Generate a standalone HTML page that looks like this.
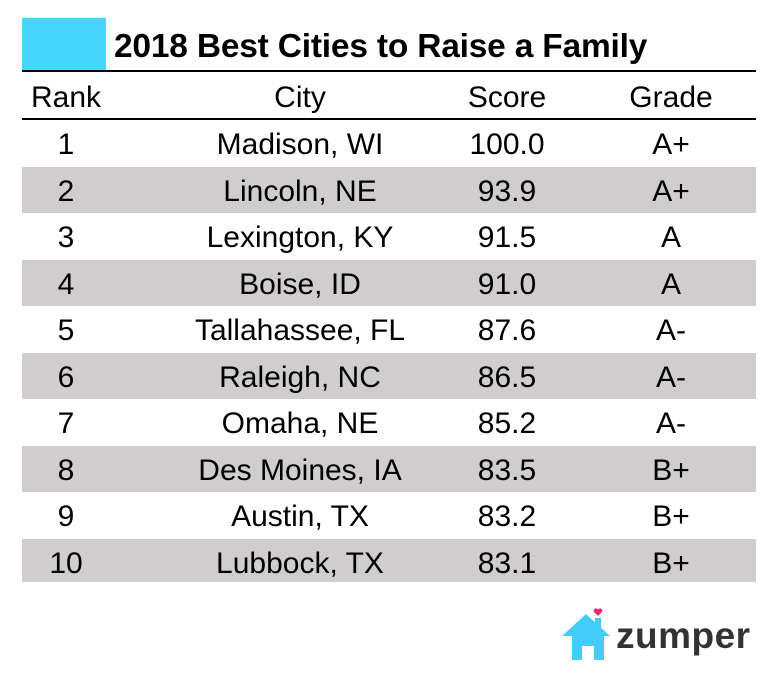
<!DOCTYPE html>
<html><head><style>
body{margin:0;width:776px;height:684px;background:#fff;position:relative;overflow:hidden;font-family:"Liberation Sans",sans-serif;color:#000}
.cy{position:absolute;left:22px;top:18px;width:84px;height:52px;background:#45d6fb}
.t{position:absolute;left:114px;top:27px;font-size:33.5px;font-weight:bold;letter-spacing:-0.2px;line-height:40px}
.ln{position:absolute;left:22px;width:734px;height:2px;background:#000}
.r{position:absolute;left:22px;width:734px;height:46.6px;font-size:30px;line-height:50px}
.r span{position:absolute;top:0;transform:translateX(-50%);white-space:nowrap}
.g{background:#cfcdcd}
.a{left:44px}.b{left:278px}.c{left:485px}.d{left:649px}
</style></head><body>
<div class="cy"></div>
<div class="t">2018 Best Cities to Raise a Family</div>
<div class="ln" style="top:70px"></div>
<div class="r" style="top:73px"><span class="a">Rank</span><span class="b">City</span><span class="c">Score</span><span class="d">Grade</span></div>
<div class="ln" style="top:118px"></div>
<div class="r" style="top:120px"><span class="a">1</span><span class="b">Madison, WI</span><span class="c">100.0</span><span class="d">A+</span></div>
<div class="r g" style="top:166.5px"><span class="a">2</span><span class="b">Lincoln, NE</span><span class="c">93.9</span><span class="d">A+</span></div>
<div class="r" style="top:213px"><span class="a">3</span><span class="b">Lexington, KY</span><span class="c">91.5</span><span class="d">A</span></div>
<div class="r g" style="top:259.5px"><span class="a">4</span><span class="b">Boise, ID</span><span class="c">91.0</span><span class="d">A</span></div>
<div class="r" style="top:306px"><span class="a">5</span><span class="b">Tallahassee, FL</span><span class="c">87.6</span><span class="d">A-</span></div>
<div class="r g" style="top:352.5px"><span class="a">6</span><span class="b">Raleigh, NC</span><span class="c">86.5</span><span class="d">A-</span></div>
<div class="r" style="top:399px"><span class="a">7</span><span class="b">Omaha, NE</span><span class="c">85.2</span><span class="d">A-</span></div>
<div class="r g" style="top:445.5px"><span class="a">8</span><span class="b">Des Moines, IA</span><span class="c">83.5</span><span class="d">B+</span></div>
<div class="r" style="top:492px"><span class="a">9</span><span class="b">Austin, TX</span><span class="c">83.2</span><span class="d">B+</span></div>
<div class="r g" style="top:538.5px;height:43px"><span class="a">10</span><span class="b">Lubbock, TX</span><span class="c">83.1</span><span class="d">B+</span></div>
<svg style="position:absolute;left:558px;top:606px" width="60" height="58" viewBox="0 0 60 58">
<path d="M4 30 L28 8 L52 30 L46 30 L46 54 L36 54 L36 40 L24 40 L24 54 L14 54 L14 30 Z" fill="#45ccfa"/>
<rect x="37" y="12" width="6" height="12" fill="#45ccfa"/>
<path d="M40 10 L36 6 A2.2 2.2 0 0 1 40 3.5 A2.2 2.2 0 0 1 44 6 Z" fill="#f0287a"/>
</svg>
<div style="position:absolute;left:616px;top:616px;font-size:37px;font-weight:bold;color:#333;line-height:40px;letter-spacing:0.5px">zumper</div>
</body></html>
